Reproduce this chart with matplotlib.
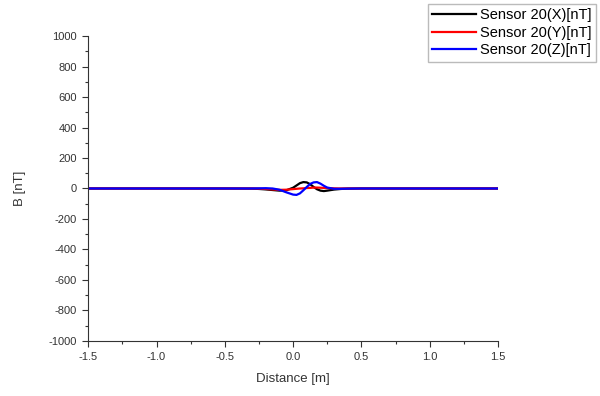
import matplotlib.pyplot as plt
from matplotlib.ticker import MultipleLocator

plt.rcParams['font.family'] = ['Liberation Sans', 'DejaVu Sans']

# distance along the track [m]
distance = [-1.5, -1.0, -0.5, -0.3, -0.25, -0.2, -0.15, -0.1, -0.05, 0.0,
            0.025, 0.05, 0.075, 0.1, 0.125, 0.15, 0.175, 0.2, 0.225, 0.25,
            0.3, 0.35, 0.4, 0.5, 1.0, 1.5]

# field components for sensor 20 [nT]
bx = [0, 0, 0, -1, -3, -6, -10, -14, -12, 5,
      20, 35, 42, 40, 28, 10, -5, -14, -17, -14,
      -7, -3, -1, 0, 0, 0]
by = [0, 0, 0, 0, -1, -3, -6, -9, -8, -4,
      -2, 0, 1, 3, 4, 6, 6, 5, 4, 3,
      1, 0, 0, 0, 0, 0]
bz = [0, 0, 0, 0, 1, 2, 0, -8, -25, -40,
      -42, -32, -12, 10, 30, 40, 42, 32, 18, 6,
      -2, -2, -1, 0, 0, 0]

fig = plt.figure(figsize=(6, 3.96), dpi=100)
ax = fig.add_axes([0.147, 0.139, 0.683, 0.77])

ax.plot(distance, bx, color='black', lw=1.6, label='Sensor 20(X)[nT]')
ax.plot(distance, by, color='red', lw=1.6, label='Sensor 20(Y)[nT]')
ax.plot(distance, bz, color='blue', lw=1.6, label='Sensor 20(Z)[nT]')

ax.set_xlim(-1.5, 1.5)
ax.set_ylim(-1000, 1000)
ax.xaxis.set_major_locator(MultipleLocator(0.5))
ax.xaxis.set_minor_locator(MultipleLocator(0.25))
ax.yaxis.set_major_locator(MultipleLocator(200))
ax.yaxis.set_minor_locator(MultipleLocator(100))
ax.xaxis.set_major_formatter(plt.FuncFormatter(lambda v, p: f'{v:.1f}'))
ax.yaxis.set_major_formatter(plt.FuncFormatter(lambda v, p: f'{v:.0f}'))
ax.tick_params(which='major', length=4, width=0.8, labelsize=8, pad=4,
               colors='#333333')
ax.tick_params(which='minor', length=2, width=0.8, colors='#333333')
for s in ['top', 'right']:
    ax.spines[s].set_visible(False)
for s in ['left', 'bottom']:
    ax.spines[s].set_color('#333333')

ax.set_xlabel('Distance [m]', fontsize=9.5, color='#333333', labelpad=8)
ax.set_ylabel('B [nT]', fontsize=9.5, color='#333333', labelpad=16)

fig.legend(loc='upper right', bbox_to_anchor=(0.998, 0.998), fontsize=10.5,
           frameon=True, fancybox=False, edgecolor='#aaaaaa', handlelength=3.0,
           borderpad=0.3, labelspacing=0.25, handletextpad=0.3,
           borderaxespad=0.2)

fig.savefig('out.png', dpi=100)
